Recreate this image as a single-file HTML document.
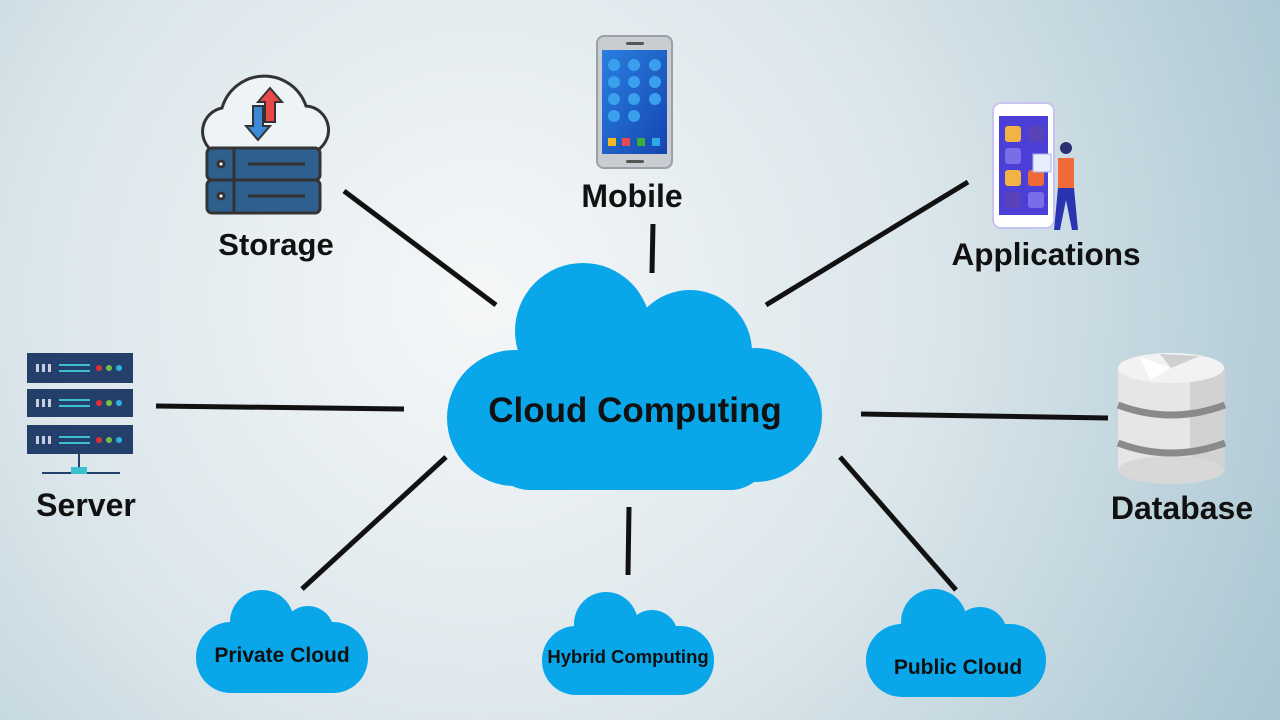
<!DOCTYPE html>
<html><head><meta charset="utf-8"><style>
html,body{margin:0;padding:0;width:1280px;height:720px;overflow:hidden}
svg{display:block}
text{font-family:"Liberation Sans",sans-serif;font-weight:bold;fill:#111}
</style></head><body>
<svg width="1280" height="720" viewBox="0 0 1280 720" xmlns="http://www.w3.org/2000/svg">
<defs>
<radialGradient id="bg" cx="480" cy="300" r="900" gradientUnits="userSpaceOnUse">
<stop offset="0" stop-color="#f5f7f8"/><stop offset="0.5" stop-color="#dbe6eb"/><stop offset="1" stop-color="#a9c6d2"/>
</radialGradient>
<linearGradient id="scr" x1="0" y1="0" x2="1" y2="1"><stop offset="0" stop-color="#2a7fe0"/><stop offset="1" stop-color="#1445b0"/></linearGradient>
</defs>
<rect width="1280" height="720" fill="url(#bg)"/>

<g stroke="#111" stroke-width="5" stroke-linecap="butt">
<line x1="344" y1="191" x2="496" y2="305"/>
<line x1="653" y1="224" x2="652" y2="273"/>
<line x1="968" y1="182" x2="766" y2="305"/>
<line x1="156" y1="406" x2="404" y2="409"/>
<line x1="861" y1="414" x2="1108" y2="418"/>
<line x1="446" y1="457" x2="302" y2="589"/>
<line x1="629" y1="507" x2="628" y2="575"/>
<line x1="840" y1="457" x2="956" y2="590"/>
</g>

<g fill="#0aa6ea">
<rect x="490" y="370" width="280" height="120" rx="40"/>
<circle cx="583" cy="331" r="68"/>
<circle cx="690" cy="352" r="62"/>
<circle cx="755" cy="415" r="67"/>
<circle cx="515" cy="418" r="68"/>
<rect x="520" y="345" width="220" height="90"/>
</g>
<text x="635" y="422" font-size="35" text-anchor="middle">Cloud Computing</text>

<g fill="#0aa6ea">
<rect x="196" y="622" width="172" height="71" rx="35"/>
<circle cx="262" cy="622" r="32"/><circle cx="308" cy="632" r="26"/>
<rect x="542" y="626" width="172" height="69" rx="34"/>
<circle cx="606" cy="624" r="32"/><circle cx="652" cy="636" r="26"/>
<rect x="866" y="624" width="180" height="73" rx="36"/>
<circle cx="934" cy="622" r="33"/><circle cx="980" cy="634" r="27"/>
</g>
<text x="282" y="662" font-size="21" text-anchor="middle">Private Cloud</text>
<text x="628" y="663" font-size="18.5" text-anchor="middle">Hybrid Computing</text>
<text x="958" y="674" font-size="21" text-anchor="middle">Public Cloud</text>

<g stroke="#333" stroke-width="3">
<path d="M214 152 a24 24 0 0 1 8 -44 a44 44 0 0 1 84 -2 a24 24 0 0 1 8 46 Z" fill="#eef3f6"/>
<rect x="207" y="148" width="113" height="32" rx="5" fill="#2f5f8f"/>
<rect x="207" y="180" width="113" height="33" rx="5" fill="#2f5f8f"/>
<line x1="234" y1="148" x2="234" y2="213"/>
<line x1="248" y1="164" x2="305" y2="164"/>
<line x1="248" y1="196" x2="305" y2="196"/>
<circle cx="221" cy="164" r="3" fill="#fff"/><circle cx="221" cy="196" r="3" fill="#fff"/>
</g>
<path d="M270 88 l12 14 h-7 v20 h-10 v-20 h-7 Z" fill="#e84848" stroke="#333" stroke-width="2"/>
<path d="M258 140 l-12 -14 h7 v-20 h10 v20 h7 Z" fill="#3a8ad6" stroke="#333" stroke-width="2"/>
<text x="276" y="255" font-size="31" text-anchor="middle">Storage</text>

<rect x="597" y="36" width="75" height="132" rx="7" fill="#c9ccd0" stroke="#9aa0a6" stroke-width="2"/>
<rect x="602" y="50" width="65" height="104" fill="url(#scr)"/>
<rect x="626" y="42" width="18" height="3" rx="1.5" fill="#555"/>
<rect x="626" y="160" width="18" height="3" rx="1.5" fill="#555"/>
<g fill="#3aa0ee">
<circle cx="614" cy="65" r="6"/><circle cx="634" cy="65" r="6"/><circle cx="655" cy="65" r="6"/>
<circle cx="614" cy="82" r="6"/><circle cx="634" cy="82" r="6"/><circle cx="655" cy="82" r="6"/>
<circle cx="614" cy="99" r="6"/><circle cx="634" cy="99" r="6"/><circle cx="655" cy="99" r="6"/>
<circle cx="614" cy="116" r="6"/><circle cx="634" cy="116" r="6"/>
</g>
<rect x="608" y="138" width="8" height="8" fill="#f5b820"/><rect x="622" y="138" width="8" height="8" fill="#e8484f"/>
<rect x="637" y="138" width="8" height="8" fill="#3cae3c"/><rect x="652" y="138" width="8" height="8" fill="#2fa8e8"/>
<text x="632" y="207" font-size="32" text-anchor="middle">Mobile</text>

<rect x="993" y="103" width="61" height="125" rx="8" fill="#fff" stroke="#c8c4f0" stroke-width="2"/>
<rect x="999" y="116" width="49" height="99" fill="#4b3fd8"/>
<rect x="1005" y="126" width="16" height="16" rx="3" fill="#f2b345"/>
<rect x="1028" y="126" width="16" height="16" rx="3" fill="#5a42b8"/>
<rect x="1005" y="148" width="16" height="16" rx="3" fill="#7a6ee8"/>
<rect x="1005" y="170" width="16" height="16" rx="3" fill="#f2b345"/>
<rect x="1028" y="170" width="16" height="16" rx="3" fill="#f06a38"/>
<rect x="1005" y="192" width="16" height="16" rx="3" fill="#5a42b8"/>
<rect x="1028" y="192" width="16" height="16" rx="3" fill="#7a6ee8"/>
<circle cx="1066" cy="148" r="6" fill="#2a3070"/>
<path d="M1058 158 h16 v30 h-16 Z" fill="#f06a38"/>
<path d="M1058 188 h16 l4 42 h-6 l-6 -30 l-6 30 h-6 Z" fill="#2a34b0"/>
<rect x="1033" y="154" width="18" height="18" fill="#e8ecff" stroke="#a8b0e0"/>
<text x="1046" y="265" font-size="31.5" text-anchor="middle">Applications</text>

<g>
<rect x="27" y="353" width="106" height="30" fill="#24406a"/>
<rect x="27" y="389" width="106" height="28" fill="#24406a"/>
<rect x="27" y="425" width="106" height="29" fill="#24406a"/>
<g fill="#c8d0dc"><rect x="36" y="364" width="3" height="8"/><rect x="42" y="364" width="3" height="8"/><rect x="48" y="364" width="3" height="8"/>
<rect x="36" y="399" width="3" height="8"/><rect x="42" y="399" width="3" height="8"/><rect x="48" y="399" width="3" height="8"/>
<rect x="36" y="436" width="3" height="8"/><rect x="42" y="436" width="3" height="8"/><rect x="48" y="436" width="3" height="8"/></g>
<g fill="#3cc0d0"><rect x="59" y="364" width="31" height="2"/><rect x="59" y="370" width="31" height="2"/>
<rect x="59" y="399" width="31" height="2"/><rect x="59" y="405" width="31" height="2"/>
<rect x="59" y="436" width="31" height="2"/><rect x="59" y="442" width="31" height="2"/></g>
<g><circle cx="99" cy="368" r="3" fill="#e0303a"/><circle cx="109" cy="368" r="3" fill="#7ac040"/><circle cx="119" cy="368" r="3" fill="#30b0e0"/>
<circle cx="99" cy="403" r="3" fill="#e0303a"/><circle cx="109" cy="403" r="3" fill="#7ac040"/><circle cx="119" cy="403" r="3" fill="#30b0e0"/>
<circle cx="99" cy="440" r="3" fill="#e0303a"/><circle cx="109" cy="440" r="3" fill="#7ac040"/><circle cx="119" cy="440" r="3" fill="#30b0e0"/></g>
<rect x="78" y="454" width="2" height="14" fill="#24406a"/>
<rect x="42" y="472" width="78" height="2" fill="#24406a"/>
<rect x="71" y="467" width="16" height="7" fill="#3cc0d0"/>
</g>
<text x="86" y="516" font-size="32" text-anchor="middle">Server</text>

<g>
<rect x="1118" y="368" width="107" height="102" fill="#e6e6e6"/>
<rect x="1190" y="368" width="35" height="102" fill="#d2d2d2"/>
<ellipse cx="1171" cy="470" rx="53" ry="14" fill="#d8d8d8"/>
<ellipse cx="1171" cy="368" rx="53" ry="15" fill="#f2f2f2"/>
<path d="M1140 357 L1171 368 L1150 380 Z" fill="#fff"/>
<path d="M1160 354 L1171 368 L1200 356 Z" fill="#cfcfcf"/>
<path d="M1118 405 q53 20 107 0" stroke="#8a8a8a" stroke-width="7" fill="none"/>
<path d="M1118 443 q53 20 107 0" stroke="#8a8a8a" stroke-width="7" fill="none"/>
</g>
<text x="1182" y="519" font-size="32" text-anchor="middle">Database</text>
</svg>
</body></html>
